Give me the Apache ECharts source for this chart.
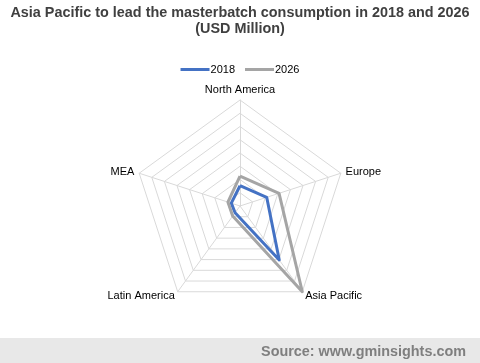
<!DOCTYPE html>
<html><head><meta charset="utf-8">
<script src="https://cdn.jsdelivr.net/npm/echarts@6/dist/echarts.min.js"></script>
<style>html,body{margin:0;padding:0;background:#fff}#c{width:480px;height:363px}</style>
</head><body><div id="c"></div>
<script>
// Indicators listed counter-clockwise from the top (ECharts radar order)
const categories = ['North America', 'MEA', 'Latin America', 'Asia Pacific', 'Europe'];
const values2018 = [1530, 690, 630, 5040, 2120];
const values2026 = [2260, 960, 940, 8000, 3100];
const seriesNames = ['2018', '2026'];
const axisMax = 8000;

const chart = echarts.init(document.getElementById('c'));
chart.setOption({
  animation: false,
  title: {
    text: 'Asia Pacific to lead the masterbatch consumption in 2018 and 2026\n(USD Million)',
    left: 'center', top: 0,
    textStyle: { fontFamily: 'Liberation Sans, Arial', fontWeight: 'bold', fontSize: 14.4, color: '#404040', lineHeight: 16 }
  },
  legend: {
    data: seriesNames, top: 59, left: 'center', itemWidth: 29, itemHeight: 3, itemGap: 10,
    icon: 'rect',
    textStyle: { fontFamily: 'Liberation Sans, Arial', fontSize: 11, color: '#000', padding: [0, 0, 0, -4] }
  },
  radar: {
    center: [240, 206], radius: 106, shape: 'polygon', splitNumber: 8,
    indicator: categories.map(n => ({ name: n, max: axisMax, min: 0 })),
    axisName: { color: '#000', fontFamily: 'Liberation Sans, Arial', fontSize: 11 },
    nameGap: 5,
    splitLine: { lineStyle: { color: '#d9d9d9', width: 1 } },
    splitArea: { show: false },
    axisLine: { lineStyle: { color: '#d9d9d9' } }
  },
  series: [{
    type: 'radar', symbol: 'none',
    data: [
      { name: seriesNames[0], value: values2018, lineStyle: { color: '#4472C4', width: 3 }, itemStyle: { color: '#4472C4' } },
      { name: seriesNames[1], value: values2026, lineStyle: { color: '#A5A5A5', width: 3 }, itemStyle: { color: '#A5A5A5' } }
    ]
  }],
  graphic: [
    { type: 'rect', shape: { x: 0, y: 338, width: 480, height: 25 }, style: { fill: '#e8e8e8' }, silent: true },
    { type: 'text', right: 14, top: 345, style: { text: 'Source: www.gminsights.com', fill: '#7f7f7f', font: 'bold 14.4px "Liberation Sans", Arial' } }
  ]
});
</script></body></html>
